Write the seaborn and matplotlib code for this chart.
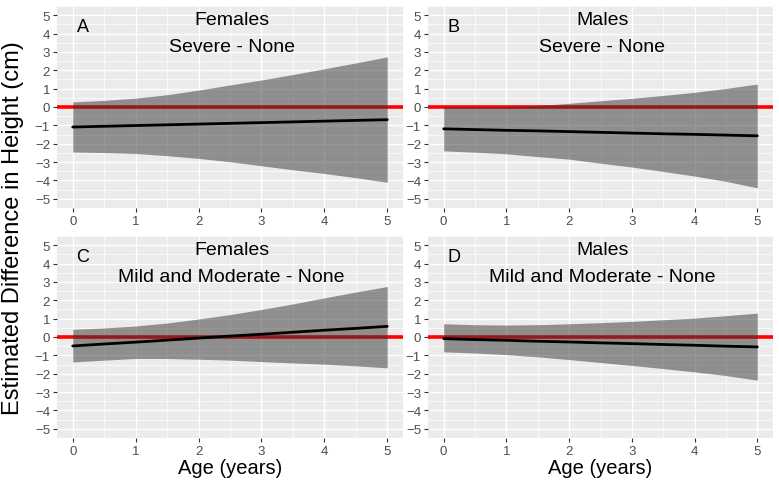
import numpy as np
import pandas as pd
import matplotlib
matplotlib.use("Agg")
import matplotlib.pyplot as plt
import seaborn as sns
from matplotlib.ticker import MultipleLocator

# ---- data ----
age = [0, 0.5, 1, 1.5, 2, 2.5, 3, 3.5, 4, 4.5, 5]
panels = ["A", "B", "C", "D"]
sex_titles = ["Females", "Males", "Females", "Males"]
contrast_titles = ["Severe - None", "Severe - None",
                   "Mild and Moderate - None", "Mild and Moderate - None"]

est_A = [-1.09, -1.05, -1.01, -0.97, -0.93, -0.89, -0.85, -0.81, -0.77, -0.73, -0.69]
upr_A = [0.28, 0.36, 0.48, 0.67, 0.92, 1.20, 1.47, 1.77, 2.08, 2.40, 2.73]
lwr_A = [-2.45, -2.48, -2.53, -2.65, -2.80, -2.98, -3.20, -3.42, -3.62, -3.85, -4.10]

est_B = [-1.19, -1.23, -1.27, -1.30, -1.34, -1.38, -1.42, -1.46, -1.49, -1.53, -1.57]
upr_B = [0.00, 0.00, 0.02, 0.08, 0.20, 0.34, 0.47, 0.63, 0.80, 1.01, 1.25]
lwr_B = [-2.39, -2.46, -2.55, -2.70, -2.84, -3.06, -3.27, -3.51, -3.76, -4.05, -4.40]

est_C = [-0.49, -0.38, -0.28, -0.17, -0.06, 0.05, 0.15, 0.26, 0.37, 0.47, 0.58]
upr_C = [0.42, 0.49, 0.60, 0.76, 0.98, 1.22, 1.50, 1.80, 2.13, 2.45, 2.75]
lwr_C = [-1.36, -1.26, -1.17, -1.17, -1.21, -1.26, -1.34, -1.41, -1.48, -1.57, -1.68]

est_D = [-0.09, -0.14, -0.18, -0.23, -0.27, -0.32, -0.36, -0.41, -0.45, -0.50, -0.54]
upr_D = [0.72, 0.67, 0.65, 0.67, 0.72, 0.78, 0.85, 0.94, 1.03, 1.16, 1.30]
lwr_D = [-0.81, -0.87, -0.96, -1.08, -1.23, -1.39, -1.55, -1.72, -1.90, -2.10, -2.35]

x_ticks = [0, 1, 2, 3, 4, 5]
y_ticks = [-5, -4, -3, -2, -1, 0, 1, 2, 3, 4, 5]

ests = [est_A, est_B, est_C, est_D]
uprs = [upr_A, upr_B, upr_C, upr_D]
lwrs = [lwr_A, lwr_B, lwr_C, lwr_D]

rows = []
for p, e, u, l in zip(panels, ests, uprs, lwrs):
    for a, ei, ui, li in zip(age, e, u, l):
        rows.append(dict(panel=p, age=a, est=ei, upr=ui, lwr=li))
df = pd.DataFrame(rows)

# ---- style ----
sns.set_theme(style="darkgrid", rc={
    "axes.facecolor": "#EBEBEB",
    "grid.color": "white",
    "axes.edgecolor": "#EBEBEB",
})
plt.rcParams["font.family"] = ["Liberation Sans", "DejaVu Sans"]

fig = plt.figure(figsize=(7.79, 4.81), dpi=100)
W, H = 779.0, 481.0
boxes = {  # left, top, right, bottom in px
    "A": (57, 7, 403, 209),
    "B": (428, 7, 773, 209),
    "C": (57, 237, 403, 439),
    "D": (428, 237, 773, 439),
}

for i, p in enumerate(panels):
    l, t, r, b = boxes[p]
    ax = fig.add_axes([l / W, 1 - b / H, (r - l) / W, (b - t) / H])
    sub = df[df["panel"] == p]
    ax.axhline(0, color="#FF0000", lw=2.6, zorder=2)
    ax.fill_between(sub["age"], sub["lwr"], sub["upr"], color="#333333",
                    alpha=0.5, linewidth=0, zorder=3)
    sns.lineplot(data=sub, x="age", y="est", ax=ax, color="black", lw=2.0,
                 zorder=4, legend=False)
    ax.set_xlim(-0.25, 5.25)
    ax.set_ylim(-5.5, 5.5)
    ax.set_xticks(x_ticks)
    ax.set_yticks(y_ticks)
    ax.xaxis.set_minor_locator(MultipleLocator(0.5))
    ax.yaxis.set_minor_locator(MultipleLocator(0.5))
    ax.grid(True, which="major", color="white", lw=1.0)
    ax.grid(True, which="minor", color="white", lw=0.5)
    ax.set_axisbelow(True)
    ax.tick_params(axis="both", which="major", length=3, width=0.8,
                   color="#333333", labelcolor="#4D4D4D", labelsize=9.5, pad=2,
                   bottom=True, left=True)
    ax.tick_params(which="minor", length=0)
    for s in ax.spines.values():
        s.set_visible(False)
    ax.set_xlabel("")
    ax.set_ylabel("")
    ax.text(0.075, 0.9, p, transform=ax.transAxes, fontsize=13,
            ha="center", va="center", color="black")
    ax.text(0.505, 0.932, sex_titles[i], transform=ax.transAxes, fontsize=14,
            ha="center", va="center", color="black")
    ax.text(0.505, 0.8, contrast_titles[i], transform=ax.transAxes,
            fontsize=14, ha="center", va="center", color="black")
    if p in ("C", "D"):
        ax.set_xlabel("Age (years)", fontsize=14.5, color="black", labelpad=1)

fig.text(13 / W, 1 - 228 / H, "Estimated Difference in Height (cm)",
         rotation=90, fontsize=17, ha="center", va="center", color="black")

fig.savefig("out.png", dpi=100, facecolor="white")
